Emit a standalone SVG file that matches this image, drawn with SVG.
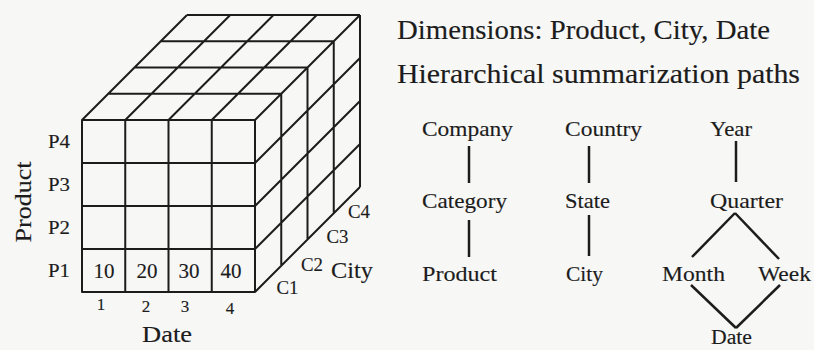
<svg xmlns="http://www.w3.org/2000/svg" width="814" height="350" viewBox="0 0 814 350">
<style>
  text { font-family: "Liberation Serif", "Times New Roman", serif; fill: #1c1c1c; stroke: #1c1c1c; stroke-width: 0.15; }
  .cube { fill: none; stroke: #1c1c1c; stroke-width: 2; stroke-linejoin: round; }
  .conn { stroke: #1c1c1c; stroke-width: 2.5; stroke-linecap: butt; fill: none; }
  .lbl { font-size: 18px; text-anchor: middle; }
  .cl { font-size: 19px; text-anchor: middle; }
  .num { font-size: 21px; text-anchor: middle; }
  .idx { font-size: 17px; text-anchor: middle; }
  .axis { font-size: 24px; }
  .head { font-size: 27px; }
  .node { font-size: 22px; }
</style>
<rect width="814" height="350" fill="#f7f7f6"/>

<g id="cube">
  <path class="cube" d="
    M82,120 H255 V292 H82 Z
    M125.25,120 V292 M168.5,120 V292 M211.75,120 V292
    M82,163 H255 M82,206 H255 M82,249 H255
    M82,120 L187,15 M125.25,120 L230.25,15 M168.5,120 L273.5,15 M211.75,120 L316.75,15 M255,120 L360,15
    M108.25,93.75 H281.25 M134.5,67.5 H307.5 M160.75,41.25 H333.75 M187,15 H360
    M255,163 L360,58 M255,206 L360,101 M255,249 L360,144 M255,292 L360,187
    M281.25,93.75 V265.75 M307.5,67.5 V239.5 M333.75,41.25 V213.25 M360,15 V187"/>
</g>

<g id="cube-labels">
  <text class="lbl" x="59" y="148" textLength="22" lengthAdjust="spacingAndGlyphs">P4</text>
  <text class="lbl" x="59" y="191" textLength="22" lengthAdjust="spacingAndGlyphs">P3</text>
  <text class="lbl" x="59" y="234" textLength="22" lengthAdjust="spacingAndGlyphs">P2</text>
  <text class="lbl" x="59" y="277" textLength="22" lengthAdjust="spacingAndGlyphs">P1</text>
  <text class="num" x="104" y="278">10</text>
  <text class="num" x="147" y="278">20</text>
  <text class="num" x="189" y="278">30</text>
  <text class="num" x="231" y="278">40</text>
  <text class="idx" x="101" y="310">1</text>
  <text class="idx" x="146" y="312">2</text>
  <text class="idx" x="185" y="312">3</text>
  <text class="idx" x="230" y="314">4</text>
  <text class="cl" x="287.5" y="294" textLength="22" lengthAdjust="spacingAndGlyphs">C1</text>
  <text class="cl" x="312" y="271" textLength="22" lengthAdjust="spacingAndGlyphs">C2</text>
  <text class="cl" x="337.5" y="243" textLength="22" lengthAdjust="spacingAndGlyphs">C3</text>
  <text class="cl" x="359" y="218" textLength="22" lengthAdjust="spacingAndGlyphs">C4</text>
  <text class="axis" x="167" y="342" text-anchor="middle" textLength="50" lengthAdjust="spacingAndGlyphs">Date</text>
  <text class="axis" x="331" y="278" textLength="42" lengthAdjust="spacingAndGlyphs">City</text>
  <text class="axis" transform="translate(31,202) rotate(-90)" x="0" y="0" text-anchor="middle" textLength="81" lengthAdjust="spacingAndGlyphs">Product</text>
</g>

<g id="headings">
  <text class="head" x="397" y="39" textLength="373" lengthAdjust="spacingAndGlyphs">Dimensions: Product, City, Date</text>
  <text class="head" x="397" y="83" textLength="403" lengthAdjust="spacingAndGlyphs">Hierarchical summarization paths</text>
</g>

<g id="connectors">
  <line class="conn" x1="469" y1="146" x2="469" y2="183"/>
  <line class="conn" x1="469" y1="220" x2="469" y2="257"/>
  <line class="conn" x1="589" y1="146" x2="589" y2="183"/>
  <line class="conn" x1="589" y1="215" x2="589" y2="256"/>
  <line class="conn" x1="736" y1="141" x2="736" y2="182"/>
  <line class="conn" x1="735" y1="213" x2="692" y2="257"/>
  <line class="conn" x1="735" y1="213" x2="779" y2="259"/>
  <line class="conn" x1="691" y1="285" x2="736" y2="328"/>
  <line class="conn" x1="780" y1="285" x2="736" y2="328"/>
</g>

<g id="node-company"><text class="node" x="422" y="136" textLength="91" lengthAdjust="spacingAndGlyphs">Company</text></g>
<g id="node-category"><text class="node" x="422" y="208" textLength="85" lengthAdjust="spacingAndGlyphs">Category</text></g>
<g id="node-product"><text class="node" x="422" y="281" textLength="75" lengthAdjust="spacingAndGlyphs">Product</text></g>
<g id="node-country"><text class="node" x="565" y="136" textLength="77" lengthAdjust="spacingAndGlyphs">Country</text></g>
<g id="node-state"><text class="node" x="565" y="208" textLength="45" lengthAdjust="spacingAndGlyphs">State</text></g>
<g id="node-city"><text class="node" x="566" y="281" textLength="37" lengthAdjust="spacingAndGlyphs">City</text></g>
<g id="node-year"><text class="node" x="710" y="136" textLength="42" lengthAdjust="spacingAndGlyphs">Year</text></g>
<g id="node-quarter"><text class="node" x="710" y="208" textLength="73" lengthAdjust="spacingAndGlyphs">Quarter</text></g>
<g id="node-month"><text class="node" x="662" y="281" textLength="63" lengthAdjust="spacingAndGlyphs">Month</text></g>
<g id="node-week"><text class="node" x="758" y="281" textLength="53" lengthAdjust="spacingAndGlyphs">Week</text></g>
<g id="node-date"><text class="node" x="711" y="344" textLength="41" lengthAdjust="spacingAndGlyphs" style="font-size:20px">Date</text></g>
</svg>
